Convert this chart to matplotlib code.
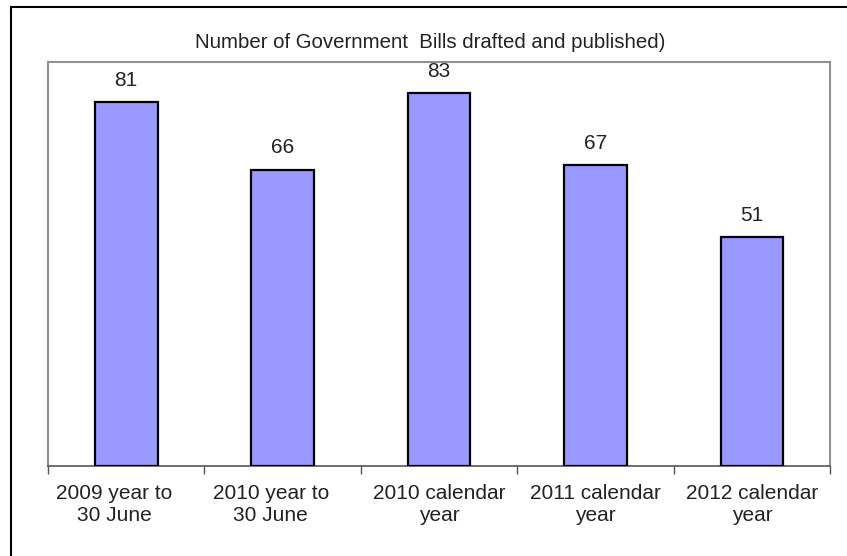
import matplotlib.pyplot as plt
from matplotlib.lines import Line2D
from matplotlib.transforms import ScaledTranslation
import numpy as np

plt.rcParams['font.family'] = ['Liberation Sans', 'DejaVu Sans']

categorias = ["2009 year to\n30 June", "2010 year to\n30 June", "2010 calendar\nyear",
              "2011 calendar\nyear", "2012 calendar\nyear"]
valores = [81, 66, 83, 67, 51]
titulo = "Number of Government  Bills drafted and published)"

fig = plt.figure(figsize=(8.47, 5.56), dpi=100, facecolor="white")
ax = fig.add_axes([0.0567, 0.1619, 0.9233, 0.7266])

x = np.arange(len(valores))
ax.bar(x, valores, width=0.40, color="#9999FF", edgecolor="black", linewidth=1.6, zorder=3)

for xi, v in zip(x, valores):
    ax.annotate(str(v), (xi, v), xytext=(0, 9), textcoords="offset points",
                ha="center", va="bottom", fontsize=15, color="#222222")

ax.set_xlim(-0.5, len(valores) - 0.5)
ax.set_ylim(0, 90)
ax.set_yticks([])

# tick marks between categories
ax.set_xticks(np.arange(-0.5, len(valores)), minor=False)
ax.set_xticklabels([])
ax.tick_params(axis="x", direction="out", length=6, width=1, color="#555555")
ax.set_xticks(x, minor=True)
ax.set_xticklabels(categorias, minor=True, fontsize=15, color="#222222")
ax.tick_params(axis="x", which="minor", length=0, pad=13)

# las dos primeras etiquetas salen algo corridas a la izquierda en el original
for lbl in ax.get_xticklabels(minor=True)[:2]:
    lbl.set_transform(lbl.get_transform() + ScaledTranslation(-0.12, 0, fig.dpi_scale_trans))

for s in ["top", "right", "left"]:
    ax.spines[s].set_color("#909090")
    ax.spines[s].set_linewidth(1.5)
ax.spines["bottom"].set_color("#555555")
ax.spines["bottom"].set_linewidth(1.2)

fig.text(0.508, 0.924, titulo, ha="center", va="center", fontsize=14.7, color="#222222")

# marco exterior (solo izquierda y arriba)
fig.add_artist(Line2D([11 / 847, 11 / 847], [0, 1 - 7 / 556], color="black", linewidth=1.5))
fig.add_artist(Line2D([11 / 847, 1], [1 - 7 / 556, 1 - 7 / 556], color="black", linewidth=1.5))

plt.savefig("out.png", dpi=100, facecolor="white")
